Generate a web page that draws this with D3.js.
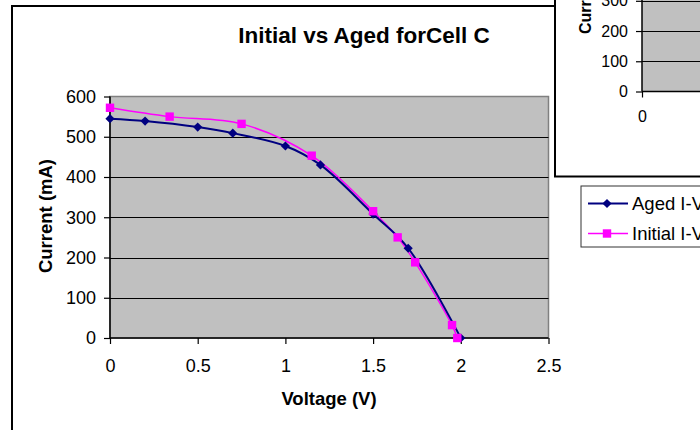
<!DOCTYPE html>
<html>
<head>
<meta charset="utf-8">
<script src="https://cdn.jsdelivr.net/npm/d3@7"></script>
<style>
  html, body { margin: 0; padding: 0; background: #fff; }
  svg { display: block; }
  text { font-family: "Liberation Sans", Arial, sans-serif; fill: #000; }
</style>
</head>
<body>
<svg id="chart" width="700" height="430"></svg>
<script>
// ---- data ----
const agedVoltage   = [0, 0.2, 0.5, 0.7, 1.0, 1.2, 1.5, 1.7, 2.0];
const agedCurrent   = [545, 539, 524, 509, 477, 430, 308, 223, 0];
const initVoltage   = [0, 0.34, 0.75, 1.15, 1.5, 1.64, 1.74, 1.95, 1.98];
const initCurrent   = [572, 550, 532, 453, 315, 250, 188, 32, 0];
const xTicks = [0, 0.5, 1, 1.5, 2, 2.5];
const yTicks = [0, 100, 200, 300, 400, 500, 600];
const seriesNames = ["Aged I-V", "Initial I-V"];
const titleText = "Initial vs Aged forCell C";
const xTitle = "Voltage (V)";
const yTitle = "Current (mA)";
// second (overlapping) chart, partially visible
const y2Ticks = [0, 100, 200, 300];
const x2Ticks = [0];

const svg = d3.select("#chart");

// ---------- main chart ----------
const main = svg.append("g");
main.append("rect").attr("x", 12).attr("y", 6).attr("width", 800).attr("height", 500)
  .attr("fill", "#fff").attr("stroke", "#000").attr("stroke-width", 2);

const x = d3.scaleLinear().domain([0, 2.5]).range([110, 548.5]);
const y = d3.scaleLinear().domain([0, 600]).range([338, 96.5]);

main.append("rect").attr("x", x(0)).attr("y", y(600)).attr("width", x(2.5) - x(0)).attr("height", y(0) - y(600))
  .attr("fill", "#c0c0c0").attr("stroke", "#808080").attr("stroke-width", 1.5);

// gridlines
main.append("g").selectAll("line").data(yTicks.filter(d => d > 0 && d < 600)).join("line")
  .attr("x1", x(0)).attr("x2", x(2.5)).attr("y1", d => Math.round(y(d)) + 0.5).attr("y2", d => Math.round(y(d)) + 0.5)
  .attr("stroke", "#000").attr("stroke-width", 1);

// axes
const yAxis = main.append("g").attr("transform", `translate(${x(0)},0)`)
  .call(d3.axisLeft(y).tickValues(yTicks).tickSize(6).tickPadding(8).tickFormat(d3.format("d")));
const xAxis = main.append("g").attr("transform", `translate(0,${y(0)})`)
  .call(d3.axisBottom(x).tickValues(xTicks).tickSize(6).tickPadding(15).tickFormat(d => String(d)));
[yAxis, xAxis].forEach(a => {
  a.select(".domain").attr("stroke", "#000").attr("stroke-width", 1.5);
  a.selectAll(".tick line").attr("stroke", "#000").attr("stroke-width", 1.2);
  a.selectAll("text").attr("font-size", 18).attr("font-family", "Liberation Sans, Arial, sans-serif").attr("fill", "#000");
});
yAxis.select(".domain").attr("d", `M0,${y(600)}V${y(0)}`);
xAxis.select(".domain").attr("d", `M${x(0)},0H${x(2.5)}`);

// titles
main.append("text").attr("x", 364).attr("y", 43).attr("text-anchor", "middle")
  .attr("font-size", 22.5).attr("font-weight", "bold").text(titleText);
main.append("text").attr("x", 329).attr("y", 405).attr("text-anchor", "middle")
  .attr("font-size", 18.5).attr("font-weight", "bold").text(xTitle);
main.append("text").attr("transform", "translate(52,216) rotate(-90)").attr("text-anchor", "middle")
  .attr("font-size", 18.5).attr("font-weight", "bold").text(yTitle);

// series
const aged = agedVoltage.map((v, i) => ({ v, c: agedCurrent[i] }));
const init = initVoltage.map((v, i) => ({ v, c: initCurrent[i] }));
const line = d3.line().x(d => x(d.v)).y(d => y(d.c)).curve(d3.curveCatmullRom.alpha(0.5));

main.append("path").datum(init).attr("d", line).attr("fill", "none").attr("stroke", "#ff00ff").attr("stroke-width", 1.5);
main.append("path").datum(aged).attr("d", line).attr("fill", "none").attr("stroke", "#000080").attr("stroke-width", 2);

const diamond = s => `M0,${-s}L${s},0L0,${s}L${-s},0Z`;
main.append("g").selectAll("path").data(aged).join("path")
  .attr("transform", d => `translate(${x(d.v)},${y(d.c)})`).attr("d", diamond(4.6)).attr("fill", "#000080");
main.append("g").selectAll("rect").data(init).join("rect")
  .attr("x", d => x(d.v) - 4.2).attr("y", d => y(d.c) - 4.2).attr("width", 8.4).attr("height", 8.4).attr("fill", "#ff00ff");

// ---------- second chart overlapping top-right ----------
const ch2 = svg.append("g");
ch2.append("rect").attr("x", 555).attr("y", -20).attr("width", 300).attr("height", 196.5)
  .attr("fill", "#fff").attr("stroke", "#000").attr("stroke-width", 2);
const y2 = d3.scaleLinear().domain([0, 300]).range([91.5, 0.8]);
const x2 = d3.scaleLinear().domain([0, 1]).range([642, 900]);
ch2.append("rect").attr("x", 642).attr("y", -20).attr("width", 300).attr("height", 91.5 + 20)
  .attr("fill", "#c0c0c0");
ch2.append("g").selectAll("line").data(y2Ticks.filter(d => d > 0)).join("line")
  .attr("x1", 642).attr("x2", 720).attr("y1", d => Math.round(y2(d)) + 0.5).attr("y2", d => Math.round(y2(d)) + 0.5)
  .attr("stroke", "#000").attr("stroke-width", 1);
const y2Axis = ch2.append("g").attr("transform", "translate(642,0)")
  .call(d3.axisLeft(y2).tickValues(y2Ticks).tickSize(6).tickPadding(8).tickFormat(d3.format("d")));
const x2Axis = ch2.append("g").attr("transform", `translate(0,${y2(0)})`)
  .call(d3.axisBottom(x2).tickValues(x2Ticks).tickSize(6).tickPadding(13).tickFormat(d => String(d)));
[y2Axis, x2Axis].forEach(a => {
  a.select(".domain").attr("stroke", "#000").attr("stroke-width", 1.5);
  a.selectAll(".tick line").attr("stroke", "#000").attr("stroke-width", 1.2);
  a.selectAll("text").attr("font-size", 16).attr("font-family", "Liberation Sans, Arial, sans-serif").attr("fill", "#000");
});
y2Axis.select(".domain").attr("d", "M0,-20V" + y2(0));
x2Axis.select(".domain").attr("d", "M642,0H720");
ch2.append("text").attr("transform", "translate(591,34) rotate(-90)").attr("text-anchor", "start")
  .attr("font-size", 16).attr("font-weight", "bold").text(yTitle);

// ---------- legend (main chart) ----------
const lg = svg.append("g");
lg.append("rect").attr("x", 581).attr("y", 186).attr("width", 200).attr("height", 61)
  .attr("fill", "#fff").attr("stroke", "#333").attr("stroke-width", 1);
const lgY = [203.5, 233.5];
const lgColors = ["#000080", "#ff00ff"];
seriesNames.forEach((name, i) => {
  lg.append("line").attr("x1", 588).attr("x2", 628).attr("y1", lgY[i]).attr("y2", lgY[i])
    .attr("stroke", lgColors[i]).attr("stroke-width", i === 0 ? 2 : 1.5);
  if (i === 0) {
    lg.append("path").attr("transform", `translate(607,${lgY[i]})`).attr("d", diamond(4.6)).attr("fill", lgColors[i]);
  } else {
    lg.append("rect").attr("x", 607 - 4.2).attr("y", lgY[i] - 4.2).attr("width", 8.4).attr("height", 8.4).attr("fill", lgColors[i]);
  }
  lg.append("text").attr("x", 632).attr("y", lgY[i] + 6.5).attr("font-size", 18.5).text(name);
});
</script>
</body>
</html>
